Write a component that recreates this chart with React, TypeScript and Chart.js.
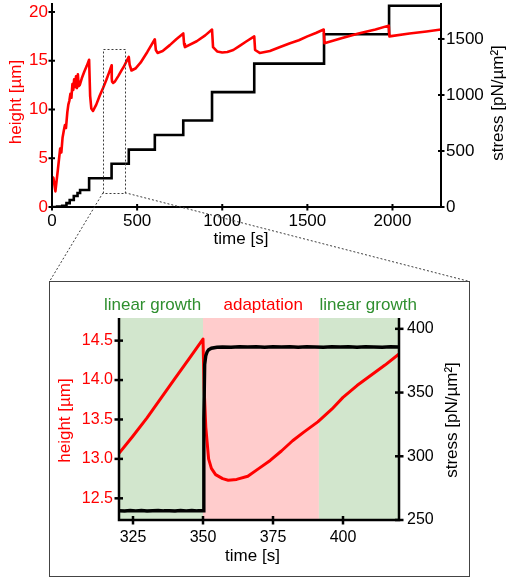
import React, { useEffect, useRef } from 'react';
import { Chart, registerables } from 'chart.js';

Chart.register(...registerables);

const FONT_FAMILY = 'Arial, "Liberation Sans", Helvetica, sans-serif';
const RED = '#ff0000';
const BLACK = '#000000';
const GROWTH_TEXT = '#2f8f2f';
const GROWTH_FILL = '#d2e6cd';
const ADAPT_FILL = '#ffcccc';

// ---- whole run: height (µm) and applied stress (pN/µm²) against time (s) ----
const TIME_TICKS = [0, 500, 1000, 1500, 2000];
const HEIGHT_TICKS = [0, 5, 10, 15, 20];
const STRESS_TICKS = [0, 500, 1000, 1500];
const TIME_RANGE = [0, 2285];
const HEIGHT_RANGE = [0, 20.92];
const STRESS_RANGE = [0, 1821];

const HEIGHT_TRACE: [number, number][] = [
  [0, 3.1], [8, 3.0], [20, 1.6], [35, 3.9], [48, 6.0], [55, 5.6], [62, 7.1], [70, 7.9],
  [76, 8.4], [82, 8.1], [90, 9.7], [96, 10.5], [102, 10.9], [108, 11.6], [114, 11.2],
  [120, 12.6], [125, 12.0], [130, 13.1], [135, 12.3], [141, 13.4], [146, 12.2], [152, 13.6],
  [157, 12.4], [163, 12.5], [175, 13.2], [190, 13.9], [205, 14.5], [218, 15.1], [224, 11.4],
  [231, 10.1], [241, 9.85], [260, 10.5], [280, 11.4], [300, 12.2], [320, 13.07], [335, 13.78],
  [350, 14.52], [351, 13.2], [353, 12.85], [359, 12.73], [370, 12.88], [390, 13.45],
  [410, 14.06], [420, 14.33], [451, 15.4], [456, 14.6], [467, 14.0], [490, 14.2], [520, 14.8],
  [560, 15.9], [604, 17.2], [610, 16.1], [620, 15.8], [650, 16.0], [692, 16.6], [730, 17.2],
  [771, 17.8], [776, 16.7], [781, 16.4], [850, 17.0], [900, 17.6], [940, 18.2], [946, 16.4],
  [970, 15.95], [1000, 15.85], [1030, 15.9], [1065, 16.1], [1100, 16.5], [1143, 17.0],
  [1188, 17.5], [1193, 16.1], [1220, 15.8], [1280, 16.0], [1340, 16.4], [1398, 16.8],
  [1450, 17.1], [1500, 17.5], [1550, 17.85], [1596, 18.2], [1600, 16.8], [1700, 17.3],
  [1800, 17.8], [1900, 18.2], [1978, 18.6], [1982, 17.5], [2100, 17.8], [2200, 18.0],
  [2285, 18.2],
];

// each point: time the new stress level is reached, and that level
const STRESS_STEPS: [number, number][] = [
  [0, 0], [30, 5], [60, 10], [85, 35], [104, 62], [128, 98], [150, 125], [165, 152],
  [218, 256], [350, 386], [451, 512], [604, 643], [771, 772], [940, 1025], [1188, 1280],
  [1598, 1542], [1980, 1797], [2285, 1797],
];

// window enlarged in the detail panel (time s, height µm)
const WINDOW_TIME = [300, 428];
const WINDOW_HEIGHT = [1.47, 16.2];

// ---- detail panel: one stress step ----
const DETAIL_TIME_TICKS = [325, 350, 375, 400];
const DETAIL_HEIGHT_TICKS = [12.5, 13.0, 13.5, 14.0, 14.5];
const DETAIL_STRESS_TICKS = [250, 300, 350, 400];
const DETAIL_TIME_RANGE = [320, 420];
const DETAIL_HEIGHT_RANGE = [12.225, 14.787];
const DETAIL_STRESS_RANGE = [250, 408.5];

const PHASE_NAMES = ['linear growth', 'adaptation', 'linear growth'];
const PHASE_START = [320, 350, 391.4];
const PHASE_END = [350, 391.4, 420];
const PHASE_LABEL_AT = [332, 371.5, 409];
const PHASE_FILL = [GROWTH_FILL, ADAPT_FILL, GROWTH_FILL];
const PHASE_TEXT = [GROWTH_TEXT, RED, GROWTH_TEXT];

const DETAIL_HEIGHT_TRACE: [number, number][] = [
  [320, 13.07], [325, 13.29], [330, 13.52], [335, 13.77], [340, 14.02], [345, 14.27],
  [350, 14.52], [350.4, 13.9], [351, 13.4], [352, 13.0], [353, 12.88], [354.5, 12.8],
  [357, 12.75], [359, 12.73], [362, 12.74], [366, 12.78], [370, 12.88], [374, 12.98],
  [378, 13.1], [382, 13.23], [386, 13.34], [391, 13.47], [396, 13.63], [400, 13.78],
  [405, 13.93], [410, 14.06], [415, 14.19], [420, 14.33],
];

const DETAIL_STRESS_TRACE: [number, number][] = [
  [320, 257.3], [322, 257.1], [324, 257.4], [326, 257.2], [328, 257.4], [330, 257.1],
  [332, 257.3], [334, 257.4], [336, 257.2], [338, 257.3], [340, 257.1], [342, 257.4],
  [344, 257.2], [346, 257.4], [348, 257.2], [350, 257.3], [350.3, 330], [350.6, 372],
  [351, 379], [351.5, 382], [352, 383.5], [353, 384.8], [355, 385.5], [357, 385.8],
  [360, 385.6], [363, 385.9], [366, 385.7], [369, 385.9], [372, 385.6], [375, 385.9],
  [378, 385.7], [381, 385.9], [384, 385.6], [387, 385.9], [390, 385.8], [393, 385.6],
  [396, 385.9], [399, 385.7], [402, 385.9], [405, 385.6], [408, 385.9], [411, 385.8],
  [414, 385.6], [417, 385.9], [420, 385.7],
];

// ---- page layout ----
const PAGE_W = 506;
const PAGE_H = 579;
const INSET_LEFT = 49;
const INSET_TOP = 281;
const INSET_W = 421;
const INSET_H = 296;

const fontOf = (size: number) => `${size}px ${FONT_FAMILY}`;

function strokeLine(ctx: CanvasRenderingContext2D, x1: number, y1: number, x2: number, y2: number) {
  ctx.beginPath();
  ctx.moveTo(x1, y1);
  ctx.lineTo(x2, y2);
  ctx.stroke();
}

function drawText(
  ctx: CanvasRenderingContext2D, text: string, x: number, y: number,
  color: string, size: number, vertical = false,
) {
  ctx.save();
  ctx.translate(x, y);
  if (vertical) ctx.rotate(-Math.PI / 2);
  ctx.font = fontOf(size);
  ctx.fillStyle = color;
  ctx.textAlign = 'center';
  ctx.textBaseline = 'middle';
  ctx.fillText(text, 0, 0);
  ctx.restore();
}

// open frame (left, bottom, right) with ticks crossing the axis lines
function drawFrame(chart: any, lineWidth: number, tickOut: number, tickIn: number) {
  const { ctx, chartArea: a, scales } = chart;
  ctx.save();
  ctx.strokeStyle = BLACK;
  ctx.lineWidth = lineWidth;
  ctx.lineJoin = 'miter';
  ctx.beginPath();
  ctx.moveTo(a.left, a.top);
  ctx.lineTo(a.left, a.bottom);
  ctx.lineTo(a.right, a.bottom);
  ctx.lineTo(a.right, a.top);
  ctx.stroke();
  for (const t of scales.x.ticks) {
    const p = scales.x.getPixelForValue(t.value);
    strokeLine(ctx, p, a.bottom - tickIn, p, a.bottom + tickOut);
  }
  for (const t of scales.y.ticks) {
    const p = scales.y.getPixelForValue(t.value);
    strokeLine(ctx, a.left - tickOut, p, a.left + tickIn, p);
  }
  for (const t of scales.y2.ticks) {
    const p = scales.y2.getPixelForValue(t.value);
    strokeLine(ctx, a.right - tickIn, p, a.right + tickOut, p);
  }
  ctx.restore();
}

function axis(
  position: 'left' | 'right' | 'bottom', range: number[], ticks: number[],
  size: number, color: string, padding: number, thickness: number,
  format?: (v: number) => string,
) {
  const horizontal = position === 'bottom';
  return {
    type: 'linear',
    position,
    min: range[0],
    max: range[1],
    grid: { display: false, drawTicks: false },
    border: { display: false },
    afterBuildTicks: (s: any) => {
      s.ticks = ticks.map((value) => ({ value }));
    },
    afterFit: (s: any) => {
      if (horizontal) s.height = thickness;
      else s.width = thickness;
      s.paddingLeft = 0;
      s.paddingRight = 0;
      s.paddingTop = 0;
      s.paddingBottom = 0;
    },
    ticks: {
      color,
      padding,
      autoSkip: false,
      maxRotation: 0,
      minRotation: 0,
      font: { family: FONT_FAMILY, size },
      callback: (v: any) => (format ? format(Number(v)) : String(v)),
    },
  };
}

const toPoints = (trace: [number, number][]) => trace.map(([x, y]) => ({ x, y }));

function overviewConfig(): any {
  const overlay = {
    id: 'overviewOverlay',
    afterDraw(chart: any) {
      const { ctx, scales } = chart;
      drawFrame(chart, 2, 3.5, 3);
      drawText(ctx, 'height [µm]', 16.5, 102, RED, 17, true);
      drawText(ctx, 'stress [pN/µm²]', 498.5, 103, BLACK, 17, true);
      drawText(ctx, 'time [s]', 241, 239, BLACK, 17);

      // dotted window and its guides to the detail panel
      const x0 = scales.x.getPixelForValue(WINDOW_TIME[0]);
      const x1 = scales.x.getPixelForValue(WINDOW_TIME[1]);
      const yTop = scales.y.getPixelForValue(WINDOW_HEIGHT[1]);
      const yBot = scales.y.getPixelForValue(WINDOW_HEIGHT[0]);
      ctx.save();
      ctx.strokeStyle = '#3c3c3c';
      ctx.lineWidth = 1;
      ctx.setLineDash([2, 2]);
      ctx.strokeRect(Math.round(x0) + 0.5, Math.round(yTop) + 0.5, Math.round(x1 - x0), Math.round(yBot - yTop));
      strokeLine(ctx, x0, yBot, INSET_LEFT + 0.5, INSET_TOP + 0.5);
      strokeLine(ctx, x1, yBot, INSET_LEFT + INSET_W - 0.5, INSET_TOP + 0.5);
      ctx.restore();
    },
  };

  return {
    type: 'line',
    data: {
      datasets: [
        {
          label: 'height',
          data: toPoints(HEIGHT_TRACE),
          yAxisID: 'y',
          borderColor: RED,
          borderWidth: 2.6,
          borderJoinStyle: 'round',
          pointRadius: 0,
          tension: 0,
          fill: false,
        },
        {
          label: 'stress',
          data: toPoints(STRESS_STEPS),
          yAxisID: 'y2',
          borderColor: BLACK,
          borderWidth: 2.6,
          pointRadius: 0,
          stepped: 'before',
          fill: false,
        },
      ],
    },
    options: {
      responsive: false,
      animation: false,
      events: [],
      layout: { padding: { top: 3, bottom: PAGE_H - 207 - 45, left: 0, right: 0 } },
      plugins: { legend: { display: false }, tooltip: { enabled: false } },
      scales: {
        x: axis('bottom', TIME_RANGE, TIME_TICKS, 17, BLACK, 4, 45),
        y: axis('left', HEIGHT_RANGE, HEIGHT_TICKS, 17, RED, 4, 52),
        y2: axis('right', STRESS_RANGE, STRESS_TICKS, 17, BLACK, 5, 65),
      },
    },
    plugins: [overlay],
  };
}

function detailConfig(): any {
  const phases = {
    id: 'phaseBands',
    beforeDatasetsDraw(chart: any) {
      const { ctx, chartArea: a, scales } = chart;
      ctx.save();
      PHASE_START.forEach((start, i) => {
        const left = scales.x.getPixelForValue(start);
        const right = scales.x.getPixelForValue(PHASE_END[i]);
        ctx.fillStyle = PHASE_FILL[i];
        ctx.fillRect(left, a.top, right - left, a.bottom - a.top);
      });
      ctx.restore();
    },
    afterDraw(chart: any) {
      const { ctx, scales } = chart;
      drawFrame(chart, 2.5, 4.5, 4);
      PHASE_NAMES.forEach((name, i) => {
        drawText(ctx, name, scales.x.getPixelForValue(PHASE_LABEL_AT[i]), 23, PHASE_TEXT[i], 17);
      });
      drawText(ctx, 'height [µm]', 15.5, 138.5, RED, 17, true);
      drawText(ctx, 'stress [pN/µm²]', 402.5, 138, BLACK, 17, true);
      drawText(ctx, 'time [s]', 202.5, 274.5, BLACK, 17);
    },
  };

  return {
    type: 'line',
    data: {
      datasets: [
        {
          label: 'stress',
          data: toPoints(DETAIL_STRESS_TRACE),
          yAxisID: 'y2',
          borderColor: BLACK,
          borderWidth: 3.4,
          pointRadius: 0,
          tension: 0,
          fill: false,
        },
        {
          label: 'height',
          data: toPoints(DETAIL_HEIGHT_TRACE),
          yAxisID: 'y',
          borderColor: RED,
          borderWidth: 3,
          borderJoinStyle: 'round',
          pointRadius: 0,
          tension: 0,
          fill: false,
        },
      ],
    },
    options: {
      responsive: false,
      animation: false,
      events: [],
      layout: { padding: { top: 36, bottom: 6, left: 0, right: 0 } },
      plugins: { legend: { display: false }, tooltip: { enabled: false } },
      scales: {
        x: axis('bottom', DETAIL_TIME_RANGE, DETAIL_TIME_TICKS, 16, BLACK, 8, 50),
        y: axis('left', DETAIL_HEIGHT_RANGE, DETAIL_HEIGHT_TICKS, 16, RED, 6, 69, (v) => v.toFixed(1)),
        y2: axis('right', DETAIL_STRESS_RANGE, DETAIL_STRESS_TICKS, 16, BLACK, 8, 70),
      },
    },
    plugins: [phases],
  };
}

export default function App() {
  const overviewRef = useRef<HTMLCanvasElement>(null);
  const detailRef = useRef<HTMLCanvasElement>(null);

  useEffect(() => {
    document.body.style.margin = '0';
    const overview = new Chart(overviewRef.current!, overviewConfig());
    const detail = new Chart(detailRef.current!, detailConfig());
    return () => {
      overview.destroy();
      detail.destroy();
    };
  }, []);

  return (
    <div style={{ position: 'relative', width: PAGE_W, height: PAGE_H, background: '#fff', overflow: 'hidden' }}>
      <canvas
        ref={overviewRef}
        width={PAGE_W}
        height={PAGE_H}
        style={{ position: 'absolute', left: 0, top: 0, display: 'block' }}
      />
      <div
        style={{
          position: 'absolute',
          left: INSET_LEFT,
          top: INSET_TOP,
          width: INSET_W,
          height: INSET_H,
          boxSizing: 'border-box',
          border: '1px solid #444',
          background: '#fff',
        }}
      >
        <canvas ref={detailRef} width={INSET_W - 2} height={INSET_H - 2} style={{ display: 'block' }} />
      </div>
    </div>
  );
}
